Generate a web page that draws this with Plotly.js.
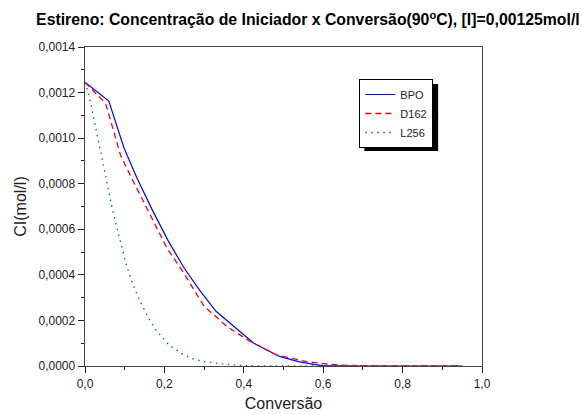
<!DOCTYPE html>
<html>
<head>
<meta charset="utf-8">
<script src="https://cdn.plot.ly/plotly-3.0.1.min.js"></script>
<style>html,body{margin:0;padding:0;background:#fff;}#chart{width:582px;height:415px;}</style>
</head>
<body>
<div id="chart"></div>
<script>
// Series: BPO (solid blue)
var bpoX = [0, 0.06, 0.098, 0.13, 0.17, 0.21, 0.25, 0.29, 0.33, 0.375, 0.425, 0.49, 0.54, 0.58, 0.6, 0.7, 0.8, 0.95];
var bpoY = [0.001245, 0.001163, 0.000958, 0.000828, 0.000683, 0.000548, 0.000429, 0.000330, 0.000240, 0.000173, 0.000100, 0.000042, 0.000018, 0.000006, 0.000002, 0, 0, 0];
// Series: D162 (dashed red)
var d162X = [0, 0.052, 0.069, 0.0895, 0.123, 0.165, 0.207, 0.249, 0.282, 0.30, 0.358, 0.4165, 0.484, 0.559, 0.609, 0.643, 0.7, 0.8, 0.95];
var d162Y = [0.001245, 0.001153, 0.00105, 0.000925, 0.000805, 0.000663, 0.000516, 0.000407, 0.000312, 0.000262, 0.000173, 0.000107, 0.000048, 0.0000189, 0.0000088, 0.000004, 0.000001, 0, 0];
// Series: L256 (dotted green)
var l256X = [0, 0.01, 0.03, 0.05, 0.07, 0.09, 0.105, 0.12, 0.14, 0.16, 0.18, 0.21, 0.24, 0.27, 0.3, 0.34, 0.38, 0.42, 0.5, 0.6, 0.7, 0.8, 0.95];
var l256Y = [0.001245, 0.00119, 0.00102, 0.00085, 0.00068, 0.00054, 0.00044, 0.00036, 0.00028, 0.00021, 0.000155, 0.000095, 0.000058, 0.000032, 0.000019, 0.0000105, 0.000004, 0.000001, 0, 0, 0, 0, 0];

var seriesNames = ['BPO', 'D162', 'L256'];
var titleText = 'Estireno: Concentração de Iniciador x Conversão(90<sup>o</sup>C), [I]=0,00125mol/l';
var xTitle = 'Conversão';
var yTitle = 'CI(mol/l)';

var FONT = 'Liberation Sans, Arial, Helvetica, sans-serif';

var traces = [
  {x: bpoX, y: bpoY, name: seriesNames[0], mode: 'lines', line: {color: '#0000ff', width: 1.2}},
  {x: d162X, y: d162Y, name: seriesNames[1], mode: 'lines', line: {color: '#ff0000', width: 1.3, dash: '6px,4px'}},
  {x: l256X, y: l256Y, name: seriesNames[2], mode: 'lines', line: {color: '#008000', width: 1.3, dash: '1.5px,4.5px'}}
];

var axisCommon = {
  showgrid: false, zeroline: false, showline: true, mirror: true,
  linecolor: '#444', linewidth: 1.4, ticks: 'outside', ticklen: 6, tickwidth: 1, tickcolor: '#222',
  tickfont: {family: FONT, size: 12, color: '#222'}, layer: 'below traces', automargin: false
};

var layout = {
  width: 582, height: 415,
  margin: {l: 85, r: 100, t: 47, b: 49},
  paper_bgcolor: '#fff', plot_bgcolor: '#fff',
  separators: ',.',
  font: {family: FONT, color: '#222'},
  title: {text: titleText, font: {family: FONT, size: 15.8, color: '#000', weight: 'bold'},
          xref: 'container', x: 0.996, xanchor: 'right', yref: 'container', y: 0.952, yanchor: 'middle'},
  xaxis: Object.assign({}, axisCommon, {
    range: [0, 1], dtick: 0.2, tick0: 0, tickformat: '.1f',
    minor: {dtick: 0.1, ticklen: 3, ticks: 'outside', tickcolor: '#222'},
    title: {text: xTitle, font: {family: FONT, size: 16, color: '#222'}, standoff: 8}
  }),
  yaxis: Object.assign({}, axisCommon, {
    range: [0, 0.0014], dtick: 0.0002, tick0: 0, tickformat: '.4f',
    minor: {dtick: 0.0001, ticklen: 3, ticks: 'outside', tickcolor: '#222'},
    title: {text: yTitle, font: {family: FONT, size: 16, color: '#222'}, standoff: 8}
  }),
  showlegend: true,
  legend: {x: 0.691, y: 0.8997, xanchor: 'left', yanchor: 'top', bgcolor: '#fff', bordercolor: '#000', borderwidth: 1,
           font: {family: FONT, size: 11, color: '#222'}, itemwidth: 30, tracegroupgap: 0},
  shapes: [
    {type: 'rect', xref: 'paper', yref: 'paper', x0: 0.7036, x1: 0.8895, y0: 0.674, y1: 0.884,
     fillcolor: '#000', line: {width: 0}, layer: 'above'}
  ]
};

Plotly.newPlot('chart', traces, layout, {staticPlot: true, displayModeBar: false});
</script>
</body>
</html>
